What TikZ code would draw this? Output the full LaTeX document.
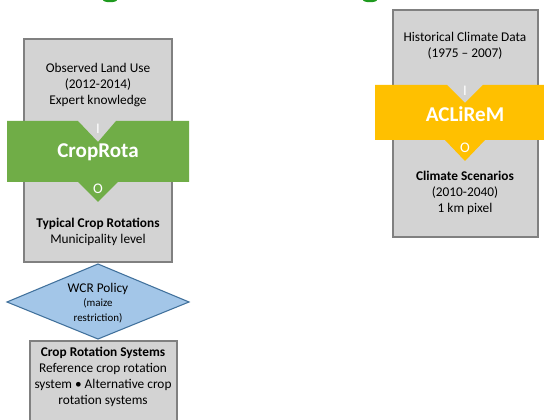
\documentclass[tikz,border=0pt]{standalone}
\usepackage{fontspec}
\setmainfont{Carlito}
\definecolor{boxgray}{HTML}{D3D3D3}
\definecolor{boxline}{HTML}{808080}
\definecolor{croprota}{HTML}{70AD47}
\definecolor{aclirem}{HTML}{FFC000}
\definecolor{policy}{HTML}{A3C6E8}
\definecolor{policyline}{HTML}{41719C}
\definecolor{title}{HTML}{1E9A1E}
\tikzset{
  databox/.style={fill=boxgray,draw=boxline,line width=1.8pt},
  txt/.style={align=center,font=\fontsize{10}{12}\selectfont},
  small/.style={align=center,font=\fontsize{8.2}{11}\selectfont},
  model/.style={text=white,font=\fontsize{15.8}{17}\selectfont\bfseries},
  io/.style={text=white,font=\fontsize{11}{12}\selectfont}
}
\begin{document}
\begin{tikzpicture}[x=0.75pt,y=-0.75pt]
  \clip (0,0) rectangle (544,420);
  \fill[white] (0,0) rectangle (544,420);
  % cut-off heading
  \fill[title] (110,0) ellipse (7 and 2.2);
  \fill[title] (370,0) ellipse (7 and 2.2);
  % CropRota column
  \draw[databox] (24,39) rectangle (172,262);
  \node[txt] (landuse) at (98,85)
    {Observed Land Use\\(2012-2014)\\Expert knowledge};
  \fill[croprota] (7,121) -- (78,121) -- (98,142) -- (116,121)
    -- (189,121) -- (189,182) -- (118,182) -- (98,202) -- (78,182)
    -- (7,182) -- cycle;
  \node[io] (cropin) at (98,129) {I};
  \node[model] (croprota) at (98,152) {CropRota};
  \node[io] (cropout) at (98,189) {O};
  \node[txt] (rotations) at (98,232)
    {\textbf{Typical Crop Rotations}\\Municipality level};
  % policy
  \draw[fill=policy,draw=policyline,line width=0.8pt]
    (7,302) -- (98,264) -- (189,302) -- (98,339) -- cycle;
  \node[txt] (wcr) at (98,289) {WCR Policy};
  \node[small] (maize) at (98,311) {(maize\\restriction)};
  \draw[databox] (30,341) rectangle (177,430);
  \node[txt] (systems) at (103,377)
    {\textbf{Crop Rotation Systems}\\Reference crop rotation\\
     system \textbullet{} Alternative crop\\rotation systems};
  % ACLiReM column
  \draw[databox] (393,10) rectangle (538,237);
  \node[txt] (historical) at (465,46)
    {Historical Climate Data\\(1975 -- 2007)};
  \fill[aclirem] (375,85) -- (447,85) -- (465,103) -- (483,85)
    -- (544,85) -- (544,140) -- (485,140) -- (465,161) -- (445,140)
    -- (375,140) -- cycle;
  \node[io] (climin) at (465,91) {I};
  \node[model] (aclirem) at (465,114) {ACLiReM};
  \node[io] (climout) at (465,148) {O};
  \node[txt] (scenarios) at (465,193)
    {\textbf{Climate Scenarios}\\(2010-2040)\\1 km pixel};
\end{tikzpicture}
\end{document}
